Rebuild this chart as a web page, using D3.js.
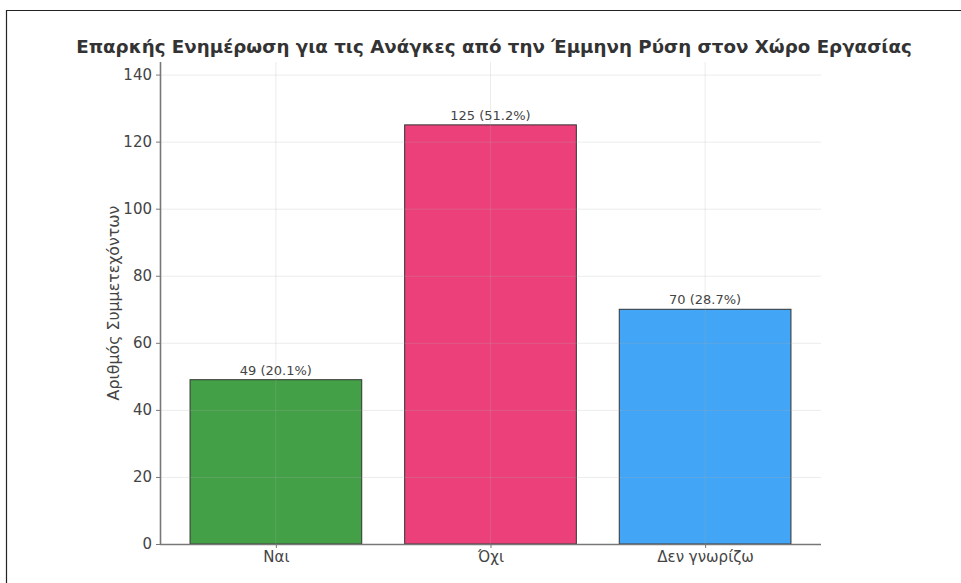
<!DOCTYPE html>
<html>
<head>
<meta charset="utf-8">
<script src="https://cdn.jsdelivr.net/npm/d3@7"></script>
<style>
  body { margin: 0; background: #fff; }
  text { font-family: "DejaVu Sans", sans-serif; }
</style>
</head>
<body>
<div id="chart"></div>
<script>
var w = 961;
var h = 583;

var categories = ["Ναι", "Όχι", "Δεν γνωρίζω"];
var counts = [49, 125, 70];
var percents = ["20.1", "51.2", "28.7"];
var barColors = ["#43a047", "#ec407a", "#42a5f5"];
var yTicks = [0, 20, 40, 60, 80, 100, 120, 140];

var title = "Επαρκής Ενημέρωση για τις Ανάγκες από την Έμμηνη Ρύση στον Χώρο Εργασίας";
var yLabel = "Αριθμός Συμμετεχόντων";

var padLeft = 160, padRight = 821, padTop = 62, padBottom = 544;

var svg = d3.select("#chart")
            .append("svg")
            .attr("width", w)
            .attr("height", h);

// outer frame (only top + left edge are visible)
svg.append("line")
   .attr("x1", 6).attr("x2", w).attr("y1", 10.5).attr("y2", 10.5)
   .attr("stroke", "#222").attr("stroke-width", 1.2);
svg.append("line")
   .attr("x1", 6.5).attr("x2", 6.5).attr("y1", 10).attr("y2", h)
   .attr("stroke", "#222").attr("stroke-width", 1.2);

// scales, bar plot margins: -0.54 .. 2.54
var xScale = d3.scaleLinear()
               .domain([-0.54, 2.54])
               .range([padLeft, padRight]);

var yScale = d3.scaleLinear()
               .domain([0, 143.75])
               .range([padBottom, padTop]);

var barW = xScale(0.4) - xScale(-0.4);

//Create bars
svg.selectAll("rect.bar")
   .data(counts)
   .enter()
   .append("rect")
   .attr("class", "bar")
   .attr("x", function(d, i) { return xScale(i - 0.4); })
   .attr("y", function(d) { return yScale(d); })
   .attr("width", barW)
   .attr("height", function(d) { return yScale(0) - yScale(d); })
   .attr("fill", function(d, i) { return barColors[i]; })
   .attr("stroke", "#333")
   .attr("stroke-width", 1);

//Grid (above the bars, faint)
svg.selectAll("line.hgrid")
   .data(yTicks)
   .enter()
   .append("line")
   .attr("class", "hgrid")
   .attr("x1", padLeft).attr("x2", padRight)
   .attr("y1", function(d) { return yScale(d) + 0.5; })
   .attr("y2", function(d) { return yScale(d) + 0.5; })
   .attr("stroke", "#b0b0b0")
   .attr("stroke-opacity", 0.3)
   .attr("stroke-width", 0.8);

svg.selectAll("line.vgrid")
   .data(categories)
   .enter()
   .append("line")
   .attr("class", "vgrid")
   .attr("x1", function(d, i) { return xScale(i); })
   .attr("x2", function(d, i) { return xScale(i); })
   .attr("y1", padTop).attr("y2", padBottom)
   .attr("stroke", "#b0b0b0")
   .attr("stroke-opacity", 0.3)
   .attr("stroke-width", 0.8);

//Value labels
svg.selectAll("text.val")
   .data(counts)
   .enter()
   .append("text")
   .attr("class", "val")
   .attr("x", function(d, i) { return xScale(i); })
   .attr("y", function(d) { return yScale(d) - 5; })
   .attr("text-anchor", "middle")
   .attr("font-size", "13px")
   .attr("fill", "#444")
   .text(function(d, i) { return d + " (" + percents[i] + "%)"; });

//Y axis
var yAxis = d3.axisLeft(yScale)
              .tickValues(yTicks)
              .tickSize(4)
              .tickPadding(4);

var gy = svg.append("g")
            .attr("class", "y axis")
            .attr("transform", "translate(" + padLeft + ",0)")
            .call(yAxis);

//X axis
var xAxis = d3.axisBottom(xScale)
              .tickValues([0, 1, 2])
              .tickFormat(function(d) { return categories[d]; })
              .tickSize(4)
              .tickPadding(3);

var gx = svg.append("g")
            .attr("class", "x axis")
            .attr("transform", "translate(0," + padBottom + ")")
            .call(xAxis);

gy.select(".domain").attr("d", "M0.5," + padTop + "V" + (padBottom + 0.5));
gx.select(".domain").attr("d", "M" + padLeft + ",0.5H" + padRight);

svg.selectAll(".axis .domain")
   .attr("stroke", "#777")
   .attr("stroke-width", 1.6);
svg.selectAll(".axis .tick line")
   .attr("stroke", "#777");
svg.selectAll(".axis .tick text")
   .attr("font-family", "DejaVu Sans, sans-serif")
   .attr("font-size", "15px")
   .attr("fill", "#444");

//Y label
var yl = svg.append("text")
   .attr("transform", "translate(119," + ((padTop + padBottom) / 2) + ") rotate(-90)")
   .attr("text-anchor", "middle")
   .attr("font-size", "13px")
   .attr("fill", "#444")
   .text(yLabel);
yl.attr("font-size", (13 * 195 / yl.node().getComputedTextLength()) + "px");

//Title
var tt = svg.append("text")
   .attr("x", 494)
   .attr("y", 53)
   .attr("text-anchor", "middle")
   .attr("font-size", "14.5px")
   .attr("font-weight", "bold")
   .attr("fill", "#333")
   .text(title);
tt.attr("font-size", (14.5 * 836 / tt.node().getComputedTextLength()) + "px");
</script>
</body>
</html>
